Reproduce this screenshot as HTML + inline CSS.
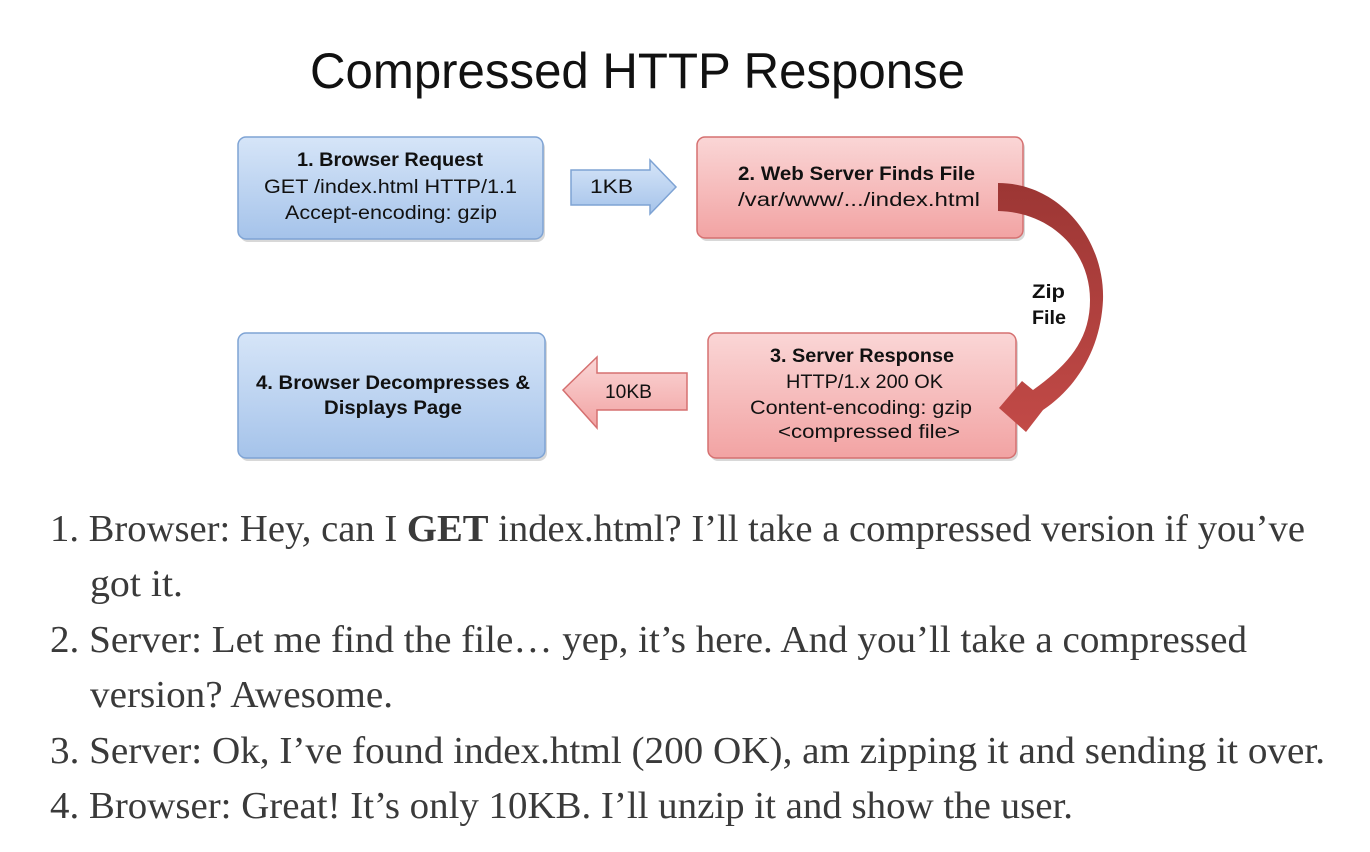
<!DOCTYPE html>
<html><head><meta charset="utf-8"><style>
html,body{margin:0;padding:0;background:#fff;}
svg{display:block;}
</style></head><body>
<svg width="1370" height="852" viewBox="0 0 1370 852" xmlns="http://www.w3.org/2000/svg">
<defs>
<linearGradient id="bl" x1="0" y1="0" x2="0" y2="1"><stop offset="0" stop-color="#d6e5f8"/><stop offset="1" stop-color="#a5c3ea"/></linearGradient>
<linearGradient id="rd" x1="0" y1="0" x2="0" y2="1"><stop offset="0" stop-color="#fad6d6"/><stop offset="1" stop-color="#f2a3a3"/></linearGradient>
<linearGradient id="cv" x1="0" y1="0" x2="0" y2="1"><stop offset="0" stop-color="#9c3634"/><stop offset="1" stop-color="#c24a47"/></linearGradient>
</defs>
<text x="310" y="88" font-family="Liberation Sans, sans-serif" font-size="50" fill="#111" textLength="655" lengthAdjust="spacingAndGlyphs">Compressed HTTP Response</text>

<g fill="#d8d8d8">
<rect x="240" y="140" width="305" height="102" rx="8"/>
<rect x="699" y="140" width="326" height="101" rx="8"/>
<rect x="710" y="336" width="308" height="125" rx="8"/>
<rect x="240" y="336" width="307" height="125" rx="8"/>
</g>
<g stroke-width="1.5">
<rect x="238" y="137" width="305" height="102" rx="8" fill="url(#bl)" stroke="#7ea3d4"/>
<rect x="697" y="137" width="326" height="101" rx="8" fill="url(#rd)" stroke="#d57070"/>
<rect x="708" y="333" width="308" height="125" rx="8" fill="url(#rd)" stroke="#d57070"/>
<rect x="238" y="333" width="307" height="125" rx="8" fill="url(#bl)" stroke="#7ea3d4"/>
<path d="M571,170 L650,170 L650,160 L676,187 L650,214 L650,205 L571,205 Z" fill="url(#bl)" stroke="#7ea3d4"/>
<path d="M687,373 L597,373 L597,357 L563,390 L597,428 L597,410 L687,410 Z" fill="url(#rd)" stroke="#d57070"/>
</g>
<path d="M998,183 C1060,183 1105,240 1103,300 C1101,345 1080,385 1043,410 L1026,432 L999,408 L1022,381 L1033,390 C1068,365 1090,340 1090,300 C1090,250 1050,212 998,211 Z" fill="url(#cv)"/>

<g font-family="Liberation Sans Narrow, Liberation Sans, sans-serif" font-size="19" fill="#111" lengthAdjust="spacingAndGlyphs">
<text x="297" y="166" font-weight="bold" textLength="186" lengthAdjust="spacingAndGlyphs">1. Browser Request</text>
<text x="264" y="193" textLength="253" lengthAdjust="spacingAndGlyphs">GET /index.html HTTP/1.1</text>
<text x="285" y="219" textLength="212" lengthAdjust="spacingAndGlyphs">Accept-encoding: gzip</text>
<text x="738" y="180" font-weight="bold" textLength="237" lengthAdjust="spacingAndGlyphs">2. Web Server Finds File</text>
<text x="738" y="206" textLength="242" lengthAdjust="spacingAndGlyphs">/var/www/.../index.html</text>
<text x="770" y="362" font-weight="bold" textLength="184" lengthAdjust="spacingAndGlyphs">3. Server Response</text>
<text x="786" y="388" textLength="157" lengthAdjust="spacingAndGlyphs">HTTP/1.x 200 OK</text>
<text x="750" y="414" textLength="222" lengthAdjust="spacingAndGlyphs">Content-encoding: gzip</text>
<text x="778" y="438" textLength="182" lengthAdjust="spacingAndGlyphs">&lt;compressed file&gt;</text>
<text x="256" y="389" font-weight="bold" textLength="274" lengthAdjust="spacingAndGlyphs">4. Browser Decompresses &amp;</text>
<text x="324" y="414" font-weight="bold" textLength="138" lengthAdjust="spacingAndGlyphs">Displays Page</text>
<text x="590" y="193" textLength="43" lengthAdjust="spacingAndGlyphs">1KB</text>
<text x="605" y="398" textLength="47" lengthAdjust="spacingAndGlyphs">10KB</text>
<text x="1032" y="298" font-weight="bold" textLength="33" lengthAdjust="spacingAndGlyphs">Zip</text>
<text x="1032" y="324" font-weight="bold" textLength="34" lengthAdjust="spacingAndGlyphs">File</text>
</g>

<g font-family="Liberation Serif, serif" font-size="38" fill="#3a3a3a">
<text x="50" y="541" textLength="1255" lengthAdjust="spacingAndGlyphs">1. Browser: Hey, can I <tspan font-weight="bold">GET</tspan> index.html? I’ll take a compressed version if you’ve</text>
<text x="90" y="596" textLength="93" lengthAdjust="spacingAndGlyphs">got it.</text>
<text x="50" y="652" textLength="1197" lengthAdjust="spacingAndGlyphs">2. Server: Let me find the file… yep, it’s here. And you’ll take a compressed</text>
<text x="90" y="707" textLength="303" lengthAdjust="spacingAndGlyphs">version? Awesome.</text>
<text x="50" y="763" textLength="1275" lengthAdjust="spacingAndGlyphs">3. Server: Ok, I’ve found index.html (200 OK), am zipping it and sending it over.</text>
<text x="50" y="818" textLength="1023" lengthAdjust="spacingAndGlyphs">4. Browser: Great! It’s only 10KB. I’ll unzip it and show the user.</text>
</g>
</svg>
</body></html>
